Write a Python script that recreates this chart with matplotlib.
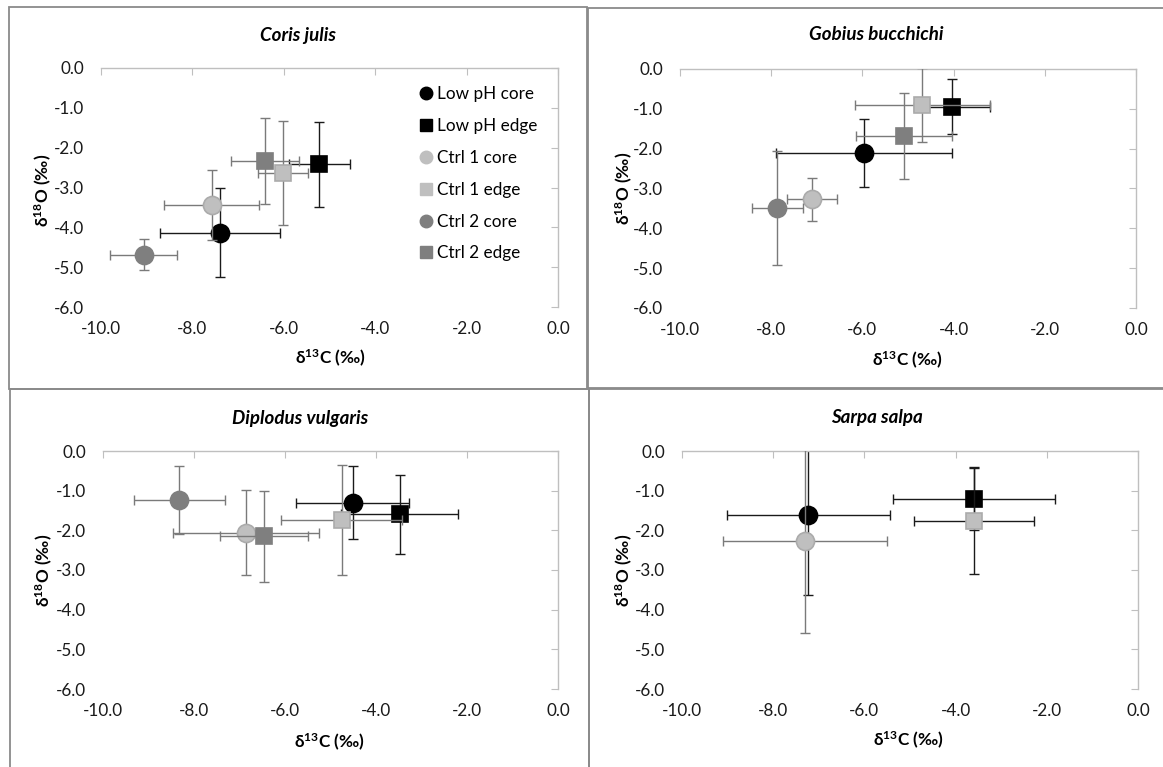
import numpy as np
import matplotlib
matplotlib.use("Agg")
import matplotlib.pyplot as plt
from matplotlib.lines import Line2D
from matplotlib.patches import Rectangle
from matplotlib.ticker import FuncFormatter

plt.rcParams["font.family"] = ["Lato", "DejaVu Sans"]
plt.rcParams["axes.unicode_minus"] = False
plt.rcParams["mathtext.fontset"] = "custom"
plt.rcParams["mathtext.rm"] = "Lato"
plt.rcParams["mathtext.bf"] = "Lato:bold"

series = ["Low pH core", "Low pH edge", "Ctrl 1 core", "Ctrl 1 edge",
          "Ctrl 2 core", "Ctrl 2 edge"]

# Coris julis: mean delta13C / delta18O and their SDs
coris_c = [-7.39, -5.22, -7.58, -6.02, -9.07, -6.41]
coris_o = [-4.13, -2.42, -3.44, -2.63, -4.69, -2.33]
coris_c_sd = [1.31, 0.67, 1.04, 0.55, 0.73, 0.74]
coris_o_sd = [1.12, 1.07, 0.87, 1.30, 0.39, 1.08]

# Gobius bucchichi
gobius_c = [-5.96, -4.03, -7.11, -4.69, -7.87, -5.08]
gobius_o = [-2.10, -0.95, -3.27, -0.90, -3.48, -1.68]
gobius_c_sd = [1.93, 0.83, 0.55, 1.48, 0.56, 1.05]
gobius_o_sd = [0.85, 0.69, 0.54, 0.93, 1.43, 1.07]

# Diplodus vulgaris
diplodus_c = [-4.51, -3.48, -6.86, -4.75, -8.32, -6.46]
diplodus_o = [-1.30, -1.60, -2.06, -1.74, -1.24, -2.15]
diplodus_c_sd = [1.24, 1.28, 1.60, 1.33, 1.00, 0.96]
diplodus_o_sd = [0.93, 1.00, 1.07, 1.38, 0.86, 1.15]

# Sarpa salpa (no Ctrl 2 samples)
nan = np.nan
sarpa_c = [-7.23, -3.59, -7.31, -3.59, nan, nan]
sarpa_o = [-1.62, -1.20, -2.27, -1.77, nan, nan]
sarpa_c_sd = [1.79, 1.78, 1.80, 1.32, nan, nan]
sarpa_o_sd = [2.00, 0.79, 2.33, 1.33, nan, nan]

x_ticks = [-10.0, -8.0, -6.0, -4.0, -2.0, 0.0]
y_ticks = [0.0, -1.0, -2.0, -3.0, -4.0, -5.0, -6.0]

# marker styling per series
markers = ["o", "s", "o", "s", "o", "s"]
faces = ["#000000", "#000000", "#BFBFBF", "#BFBFBF", "#7F7F7F", "#7F7F7F"]
edges = ["#000000", "#000000", "#ABABAB", "#ABABAB", "#7F7F7F", "#7F7F7F"]
err_cols = ["#1A1A1A", "#1A1A1A", "#7A7A7A", "#7A7A7A", "#7A7A7A", "#7A7A7A"]
sizes = [13.0, 11.0, 13.0, 11.0, 13.0, 11.0]

W, H = 1163, 767
fig = plt.figure(figsize=(W / 100, H / 100), dpi=100)
fig.patch.set_facecolor("white")


def px_axes(x0, x1, y0, y1):
    return fig.add_axes([x0 / W, 1 - y1 / H, (x1 - x0) / W, (y1 - y0) / H])


def frame(x0, y0, x1, y1):
    fig.patches.append(Rectangle((x0 / W, 1 - y1 / H), (x1 - x0) / W,
                                 (y1 - y0) / H, transform=fig.transFigure,
                                 fill=False, edgecolor="#8A8A8A", lw=1.3,
                                 zorder=0))


def fig_text(x, y, s, **kw):
    fig.text(x / W, 1 - y / H, s, ha="center", va="center", **kw)


fmt = FuncFormatter(lambda v, p: f"{v:.1f}")


def panel(box, title, title_xy, xlab_xy, ylab_xy, cs, os_, csd, osd,
          ecols=err_cols):
    ax = px_axes(*box)
    ax.set_xlim(-10, 0)
    ax.set_ylim(-6, 0)
    ax.set_xticks(x_ticks)
    ax.set_yticks(y_ticks)
    ax.xaxis.set_major_formatter(fmt)
    ax.yaxis.set_major_formatter(fmt)
    for side in ("left", "bottom"):
        ax.spines[side].set_visible(False)
    for side in ("top", "right"):
        ax.spines[side].set_color("#BFBFBF")
        ax.spines[side].set_linewidth(1.0)
    ax.tick_params(axis="x", top=True, bottom=False, labeltop=False,
                   labelbottom=True, direction="in", length=5,
                   color="#BFBFBF", labelsize=12.3, pad=10, labelcolor="#1A1A1A")
    ax.tick_params(axis="y", right=True, left=False, labelright=False,
                   labelleft=True, direction="in", length=5,
                   color="#BFBFBF", labelsize=12.3, pad=12, labelcolor="#1A1A1A")
    for i, name in enumerate(series):
        if np.isnan(cs[i]):
            continue
        ax.errorbar(cs[i], os_[i], xerr=csd[i], yerr=osd[i], fmt="none",
                    ecolor=ecols[i], elinewidth=1.0, capsize=3.5,
                    capthick=1.0, zorder=2 + i)
        ax.plot(cs[i], os_[i], marker=markers[i], ms=sizes[i],
                mfc=faces[i], mec=edges[i], mew=1.2, ls="none",
                zorder=2.5 + i)
    fig_text(*title_xy, title, fontsize=13.5, fontweight="bold",
             fontstyle="italic", color="#000000")
    fig_text(*xlab_xy, r"δ$\mathbf{^{13}}$C (‰)", fontsize=12.3,
             fontweight="bold")
    fig_text(*ylab_xy, r"δ$\mathbf{^{18}}$O (‰)", fontsize=12.3,
             fontweight="bold", rotation=90)
    return ax


# chart frames
frame(9, 7, 587, 389)
frame(588, 8, 1175, 388)
frame(10, 389, 589, 780)
frame(589, 389, 1175, 780)

ax1 = panel((101, 558, 68, 307), "Coris julis", (298, 35), (330, 358),
            (43, 190), coris_c, coris_o, coris_c_sd, coris_o_sd)
ax2 = panel((680, 1136, 69, 308), "Gobius bucchichi", (876, 35), (907, 360),
            (624, 188), gobius_c, gobius_o, gobius_c_sd, gobius_o_sd)
ax3 = panel((103, 558, 451, 689), "Diplodus vulgaris", (300, 418), (329, 742),
            (44, 570), diplodus_c, diplodus_o, diplodus_c_sd, diplodus_o_sd)
sarpa_err = ["#1A1A1A", "#1A1A1A", "#7A7A7A", "#1A1A1A", "#7A7A7A", "#7A7A7A"]
ax4 = panel((682, 1138, 451, 689), "Sarpa salpa", (877, 417), (908, 740),
            (624, 570), sarpa_c, sarpa_o, sarpa_c_sd, sarpa_o_sd,
            ecols=sarpa_err)

# legend for the first panel
handles = [Line2D([], [], marker=markers[i], ls="none",
                  ms=9 if markers[i] == "o" else 8.5,
                  mfc=faces[i], mec=faces[i]) for i in range(len(series))]
ax1.legend(handles, series, loc="upper left",
           bbox_to_anchor=(420 / W, 1 - 86 / H), bbox_transform=fig.transFigure,
           frameon=False, fontsize=12.3, handlelength=0.7, handletextpad=0.3,
           labelspacing=0.93, borderpad=0, borderaxespad=0)

fig.savefig("out.png", dpi=100, facecolor="white")
